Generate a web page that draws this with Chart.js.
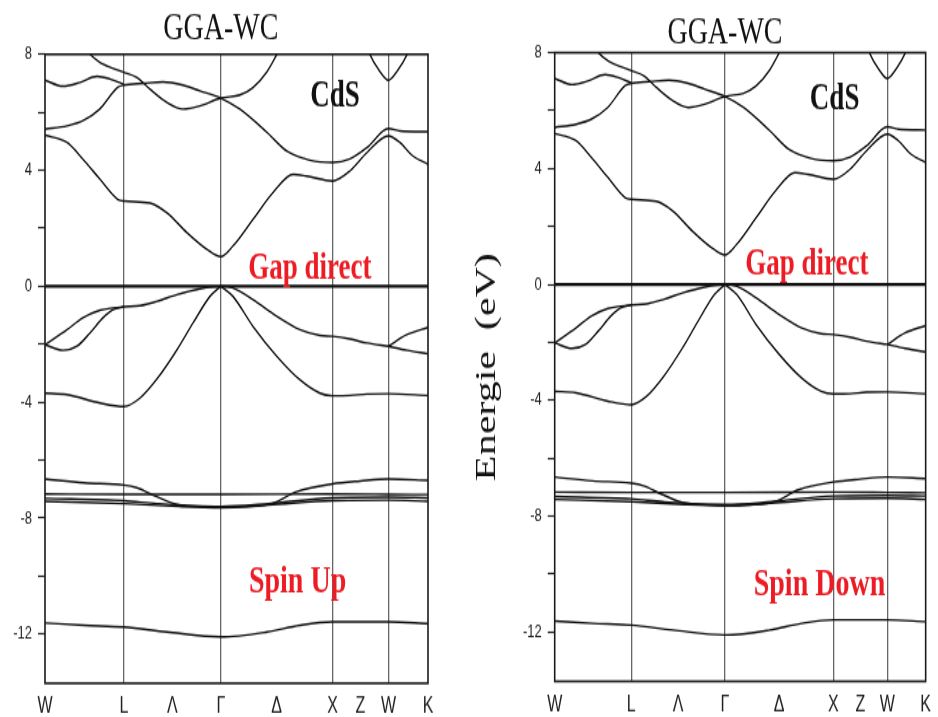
<!DOCTYPE html>
<html>
<head>
<meta charset="utf-8">
<script src="https://cdn.jsdelivr.net/npm/chart.js@4.4.0/dist/chart.umd.min.js"></script>
<style>
  html, body { margin: 0; padding: 0; background: #fff; overflow: hidden; }
  #wrap { position: relative; width: 938px; height: 717px; }
  /* the original figure is stretched vertically, so the canvases are too */
  canvas { position: absolute; top: 0; width: 469px !important; height: 717px !important; }
</style>
</head>
<body>
<div id="wrap">
  <canvas id="spinUp" width="469" height="512" style="left:0"></canvas>
  <canvas id="spinDown" width="469" height="512" style="left:469px"></canvas>
</div>
<script>
// k-path distances (2pi/a): W - L - Gamma - X - W - K
const kTicks = [0, 0.707, 1.14, 1.573, 2.073, 2.573, 2.823, 3.073, 3.427];
const kLabels = ['W', 'L', 'Λ', 'Γ', 'Δ', 'X', 'Z', 'W', 'K'];
const kLines = [false, true, false, true, false, true, false, true, false];
const yTicks = [-12, -10, -8, -6, -4, -2, 0, 2, 4, 6, 8];

// conduction bands [k, E(eV)]
const bandC1 = [[0,5.21],[0.197,4.96],[0.34,4.38],[0.49,3.7],[0.65,3.0],[0.707,2.94],[0.94,2.87],[1.09,2.54],[1.27,1.85],[1.45,1.27],[1.573,1.02],[1.68,1.38],[1.86,2.3],[2.04,3.23],[2.22,3.86],[2.34,3.8],[2.573,3.63],[2.73,3.98],[2.88,4.61],[3.073,5.19],[3.175,4.96],[3.29,4.5],[3.427,4.21]];
const bandC2 = [[0,5.42],[0.197,5.53],[0.34,5.71],[0.49,6.11],[0.65,6.86],[0.707,6.94],[0.88,7.0],[1.055,7.05],[1.234,6.94],[1.386,6.74],[1.573,6.49],[1.744,6.11],[1.986,5.31],[2.165,4.66],[2.37,4.35],[2.573,4.27],[2.73,4.4],[2.88,4.78],[3.073,5.44],[3.175,5.36],[3.427,5.33]];
const bandC3 = [[0.33,8.35],[0.403,8.0],[0.492,7.72],[0.555,7.6],[0.707,7.38],[0.823,7.2],[0.939,6.8],[1.091,6.34],[1.234,6.11],[1.386,6.22],[1.573,6.49],[1.744,6.6],[1.86,6.85],[1.986,7.4],[2.075,8.0],[2.13,8.4]];
const bandC4 = [[0,7.11],[0.161,6.9],[0.313,7.03],[0.465,7.24],[0.581,7.15],[0.707,6.96]];
const bandC5 = [[2.86,8.5],[2.907,8.0],[2.99,7.45],[3.073,7.11],[3.156,7.45],[3.24,8.0],[3.29,8.5]];

// valence bands
const bandV1 = [[0,-2.02],[0.197,-1.5],[0.34,-1.09],[0.492,-0.83],[0.608,-0.75],[0.707,-0.71],[0.85,-0.67],[1.002,-0.52],[1.181,-0.29],[1.386,-0.09],[1.573,0],[1.682,-0.06],[1.86,-0.46],[2.075,-1.04],[2.281,-1.5],[2.46,-1.7],[2.573,-1.73],[2.728,-1.82],[2.88,-1.96],[3.073,-2.07]];
const bandV1K = [[3.073,-2.07],[3.238,-1.67],[3.427,-1.42]];
const bandV2 = [[0,-2.02],[0.161,-2.21],[0.286,-2.07],[0.403,-1.61],[0.519,-1.09],[0.608,-0.81],[0.707,-0.71]];
const bandV2K = [[3.073,-2.07],[3.238,-2.21],[3.427,-2.33]];
const bandV3L = [[0,-3.69],[0.197,-3.74],[0.492,-4.03],[0.707,-4.15],[0.85,-3.86],[1.002,-3.2],[1.181,-2.19],[1.324,-1.27],[1.476,-0.35],[1.573,0]];
const bandV3R = [[1.573,0],[1.682,-0.35],[1.86,-1.38],[2.075,-2.42],[2.281,-3.23],[2.46,-3.69],[2.573,-3.78],[2.728,-3.77],[2.88,-3.72],[3.073,-3.71],[3.427,-3.77]];

// Cd-d bands
const bandD1 = [[0,-6.65],[0.35,-6.78],[0.707,-6.86],[0.82,-6.95],[1.0,-7.26],[1.21,-7.55],[1.573,-7.62],[1.85,-7.6],[2.04,-7.49],[2.25,-7.09],[2.573,-6.82],[2.82,-6.72],[3.073,-6.65],[3.427,-6.7]];
const bandD2 = [[0,-7.17],[0.707,-7.18],[1.573,-7.18],[2.573,-7.17],[3.073,-7.18],[3.427,-7.19]];
const bandD3 = [[0,-7.32],[0.707,-7.4],[1.0,-7.5],[1.573,-7.6],[2.0,-7.5],[2.573,-7.3],[3.073,-7.28],[3.427,-7.3]];
const bandD4 = [[0,-7.42],[0.707,-7.5],[1.2,-7.6],[1.573,-7.64],[2.0,-7.55],[2.573,-7.4],[3.073,-7.38],[3.427,-7.42]];

// S-s band
const bandS = [[0,-11.62],[0.35,-11.7],[0.707,-11.76],[1.091,-11.93],[1.573,-12.1],[1.986,-11.93],[2.281,-11.7],[2.573,-11.58],[3.073,-11.58],[3.427,-11.64]];

const fermi = [[0,0],[3.427,0]];

const allBands = [bandC1, bandC2, bandC3, bandC4, bandC5, bandV1, bandV1K, bandV2, bandV2K,
                  bandV3L, bandV3R, bandD1, bandD2, bandD3, bandD4, bandS];

const RED = '#ec1c24';

function toXY(arr) {
    return arr.map(p => ({x: p[0], y: p[1]}));
}

const panelPlugin = {
    id: 'panelDeco',
    afterDatasetsDraw(chart) {
        const ctx = chart.ctx;
        const a = chart.chartArea;
        const xs = chart.scales.x, ys = chart.scales.y;
        const o = chart.options.plugins.panelDeco;
        ctx.save();
        // frame
        ctx.strokeStyle = '#1a1a1a';
        ctx.lineWidth = 1.6;
        ctx.strokeRect(a.left, a.top, a.right - a.left, a.bottom - a.top);
        // title
        ctx.fillStyle = '#111';
        ctx.font = '28px "Liberation Serif"';
        ctx.textAlign = 'center';
        ctx.textBaseline = 'alphabetic';
        ctx.fillText('GGA-WC', xs.getPixelForValue(1.573), o.titleY);
        // labels inside the plot
        o.notes.forEach(n => {
            ctx.fillStyle = n.color;
            ctx.font = 'bold ' + n.size + 'px "Liberation Serif"';
            ctx.fillText(n.text, xs.getPixelForValue(n.k), ys.getPixelForValue(n.e));
        });
        ctx.restore();
    }
};

function makePanel(id, cfg) {
    const datasets = allBands.map(b => ({
        data: toXY(b),
        borderColor: '#111',
        borderWidth: 1.4,
        pointRadius: 0,
        cubicInterpolationMode: 'monotone',
        clip: 0
    }));
    datasets.push({
        data: toXY(fermi),
        borderColor: '#111',
        borderWidth: 2.4,
        pointRadius: 0,
        clip: 0
    });

    return new Chart(document.getElementById(id), {
        type: 'line',
        data: { datasets: datasets },
        plugins: [panelPlugin],
        options: {
            responsive: false,
            animation: false,
            devicePixelRatio: 1,
            layout: { padding: { left: 0, right: cfg.padRight, top: cfg.padTop, bottom: 0 } },
            plugins: {
                legend: { display: false },
                tooltip: { enabled: false },
                panelDeco: { titleY: cfg.titleY, notes: cfg.notes }
            },
            scales: {
                x: {
                    type: 'linear',
                    min: 0,
                    max: 3.427,
                    afterBuildTicks: s => { s.ticks = kTicks.map(v => ({value: v})); },
                    afterFit: s => { s.height = cfg.xAxisH; },
                    ticks: {
                        autoSkip: false,
                        maxRotation: 0,
                        padding: 7,
                        color: '#222',
                        font: { family: 'Liberation Sans', size: 16 },
                        callback: (v, i) => kLabels[i]
                    },
                    grid: {
                        drawTicks: false,
                        lineWidth: 1.3,
                        color: c => kLines[c.index] ? '#666' : 'rgba(0,0,0,0)'
                    },
                    border: { display: false }
                },
                y: {
                    min: -13.7,
                    max: 8,
                    afterBuildTicks: s => { s.ticks = yTicks.map(v => ({value: v})); },
                    afterFit: s => { s.width = cfg.yAxisW; },
                    ticks: {
                        padding: 6,
                        color: '#222',
                        font: { family: 'Liberation Sans', size: 13 },
                        callback: v => (v % 4 === 0 ? String(v) : '')
                    },
                    grid: { drawOnChartArea: false, tickLength: 7, tickColor: '#222', tickWidth: 1.2 },
                    border: { display: false },
                    title: {
                        display: cfg.yTitle,
                        text: 'Energie  (eV)',
                        color: '#111',
                        padding: 0,
                        font: { family: 'Liberation Serif', size: 30 }
                    }
                }
            }
        }
    });
}

makePanel('spinUp', {
    padRight: 41, padTop: 38.8, xAxisH: 24.1, yAxisW: 45, titleY: 28.1, yTitle: false,
    notes: [
        {text: 'CdS', k: 2.594, e: 6.22, color: '#111', size: 27},
        {text: 'Gap direct', k: 2.37, e: 0.28, color: RED, size: 27},
        {text: 'Spin Up', k: 2.26, e: -10.55, color: RED, size: 28}
    ]
});

makePanel('spinDown', {
    padRight: 4, padTop: 37.6, xAxisH: 25.5, yAxisW: 85.7, titleY: 30.5, yTitle: true,
    notes: [
        {text: 'CdS', k: 2.586, e: 6.05, color: '#111', size: 27},
        {text: 'Gap direct', k: 2.33, e: 0.35, color: RED, size: 27},
        {text: 'Spin Down', k: 2.446, e: -10.75, color: RED, size: 28}
    ]
});
</script>
</body>
</html>
